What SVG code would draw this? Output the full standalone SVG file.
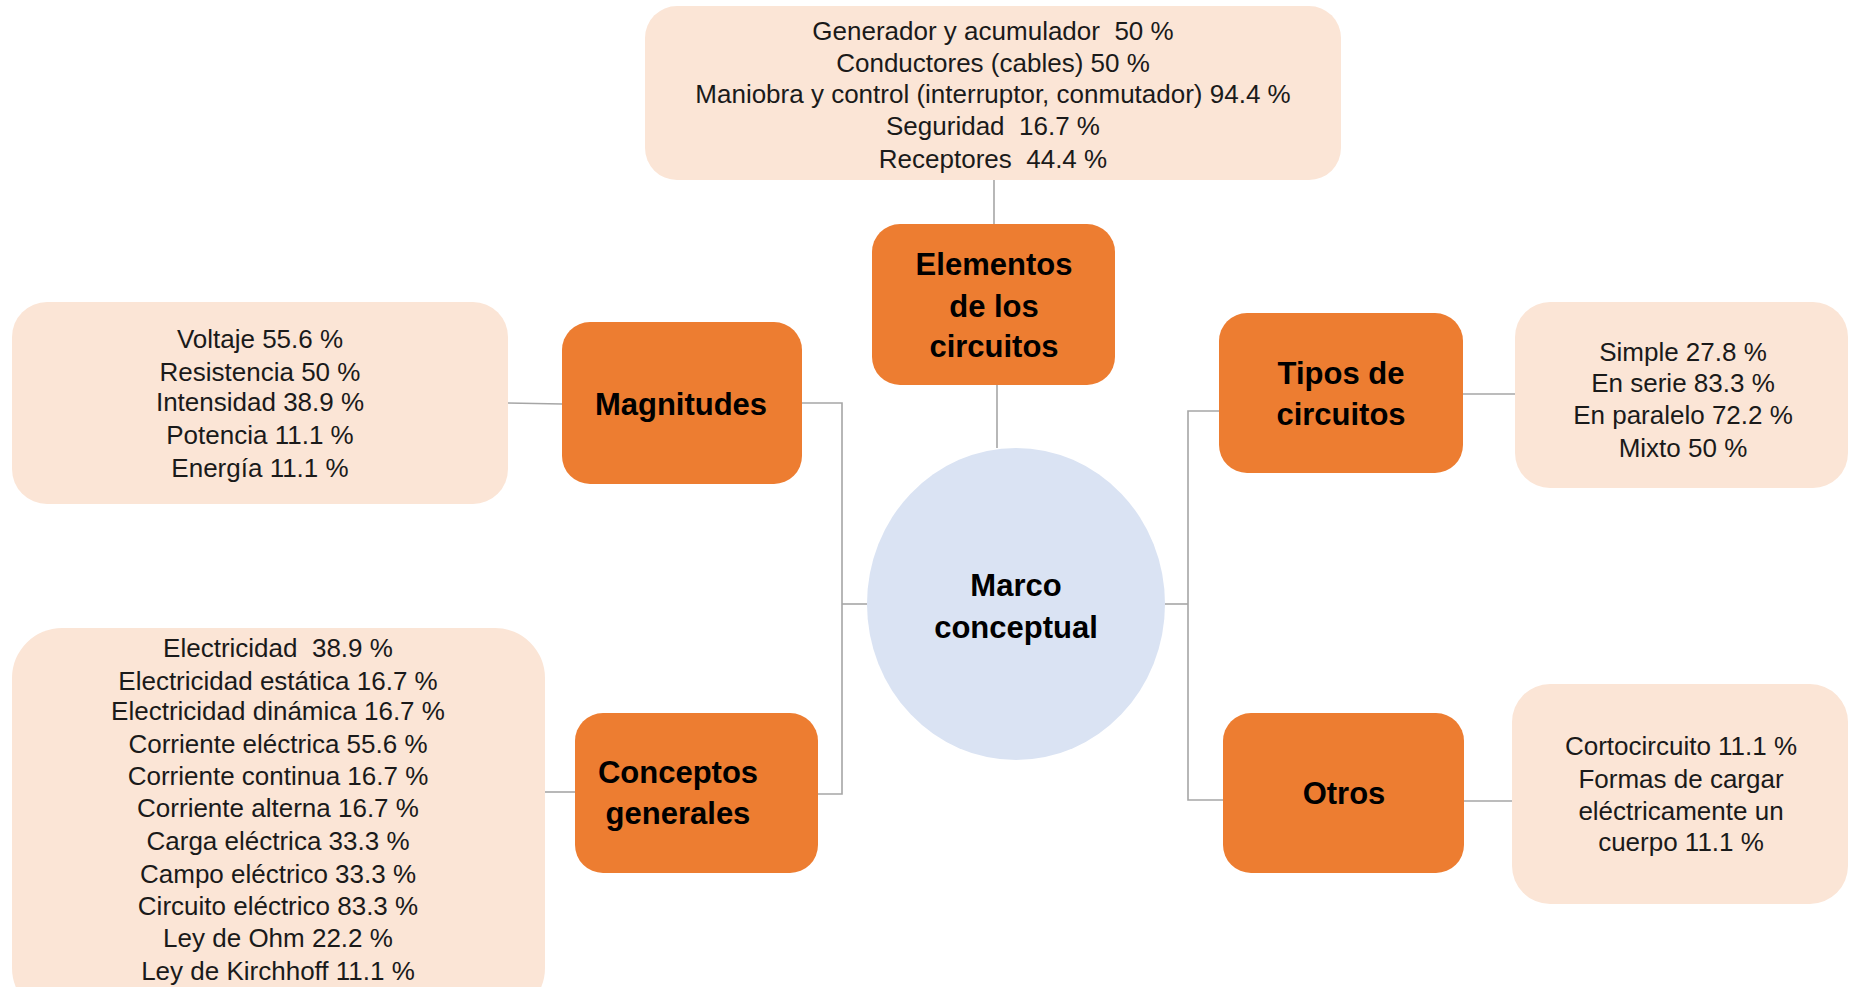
<svg xmlns="http://www.w3.org/2000/svg" width="1850" height="987" viewBox="0 0 1850 987">
<style>
.lb{fill:#FBE5D6;}
.ob{fill:#ED7D31;}
.t{font-family:"Liberation Sans",Arial,sans-serif;font-size:26px;fill:#1a1a1a;text-anchor:middle;white-space:pre;}
.b{font-family:"Liberation Sans",Arial,sans-serif;font-size:31px;font-weight:bold;fill:#000;text-anchor:middle;}
.c{fill:none;stroke:#A6A6A6;stroke-width:1.6;}
</style>
<rect width="1850" height="987" fill="#fff"/>
<g id="connectors">
<line class="c" x1="994" y1="180" x2="994" y2="224"/>
<line class="c" x1="997" y1="385" x2="997" y2="448"/>
<line class="c" x1="508" y1="403" x2="562" y2="404"/>
<polyline class="c" points="802,403 842,403 842,794 818,794"/>
<line class="c" x1="842" y1="604" x2="867" y2="604"/>
<line class="c" x1="545" y1="792" x2="575" y2="792"/>
<polyline class="c" points="1219,411 1188,411 1188,800 1223,800"/>
<line class="c" x1="1165" y1="604" x2="1188" y2="604"/>
<line class="c" x1="1463" y1="394" x2="1515" y2="394"/>
<line class="c" x1="1464" y1="801" x2="1512" y2="801"/>
</g>
<g id="elementos-detalle">
<rect class="lb" x="645" y="6" width="696" height="174" rx="32"/>
<text class="t" x="993" y="40" xml:space="preserve">Generador y acumulador  50 %</text>
<text class="t" x="993" y="72">Conductores (cables) 50 %</text>
<text class="t" x="993" y="103">Maniobra y control (interruptor, conmutador) 94.4 %</text>
<text class="t" x="993" y="135" xml:space="preserve">Seguridad  16.7 %</text>
<text class="t" x="993" y="168" xml:space="preserve">Receptores  44.4 %</text>
</g>
<g id="elementos">
<rect class="ob" x="872" y="224" width="243" height="161" rx="28"/>
<text class="b" x="994" y="275">Elementos</text>
<text class="b" x="994" y="317">de los</text>
<text class="b" x="994" y="357">circuitos</text>
</g>
<g id="magnitudes-detalle">
<rect class="lb" x="12" y="302" width="496" height="202" rx="35"/>
<text class="t" x="260" y="348">Voltaje 55.6 %</text>
<text class="t" x="260" y="381">Resistencia 50 %</text>
<text class="t" x="260" y="411">Intensidad 38.9 %</text>
<text class="t" x="260" y="444">Potencia 11.1 %</text>
<text class="t" x="260" y="477">Energía 11.1 %</text>
</g>
<g id="magnitudes">
<rect class="ob" x="562" y="322" width="240" height="162" rx="28"/>
<text class="b" x="681" y="415">Magnitudes</text>
</g>
<g id="marco">
<ellipse cx="1016" cy="604" rx="149" ry="156" fill="#DAE3F3"/>
<text class="b" x="1016" y="596">Marco</text>
<text class="b" x="1016" y="638">conceptual</text>
</g>
<g id="tipos">
<rect class="ob" x="1219" y="313" width="244" height="160" rx="28"/>
<text class="b" x="1341" y="384">Tipos de</text>
<text class="b" x="1341" y="425">circuitos</text>
</g>
<g id="tipos-detalle">
<rect class="lb" x="1515" y="302" width="333" height="186" rx="35"/>
<text class="t" x="1683" y="361">Simple 27.8 %</text>
<text class="t" x="1683" y="392">En serie 83.3 %</text>
<text class="t" x="1683" y="424">En paralelo 72.2 %</text>
<text class="t" x="1683" y="457">Mixto 50 %</text>
</g>
<g id="otros">
<rect class="ob" x="1223" y="713" width="241" height="160" rx="28"/>
<text class="b" x="1344" y="804">Otros</text>
</g>
<g id="otros-detalle">
<rect class="lb" x="1512" y="684" width="336" height="220" rx="38"/>
<text class="t" x="1681" y="755">Cortocircuito 11.1 %</text>
<text class="t" x="1681" y="788">Formas de cargar</text>
<text class="t" x="1681" y="820">eléctricamente un</text>
<text class="t" x="1681" y="851">cuerpo 11.1 %</text>
</g>
<g id="conceptos">
<rect class="ob" x="575" y="713" width="243" height="160" rx="28"/>
<text class="b" x="678" y="783">Conceptos</text>
<text class="b" x="678" y="824">generales</text>
</g>
<g id="conceptos-detalle">
<rect class="lb" x="12" y="628" width="533" height="390" rx="50"/>
<text class="t" x="278" y="657" xml:space="preserve">Electricidad  38.9 %</text>
<text class="t" x="278" y="690">Electricidad estática 16.7 %</text>
<text class="t" x="278" y="720">Electricidad dinámica 16.7 %</text>
<text class="t" x="278" y="753">Corriente eléctrica 55.6 %</text>
<text class="t" x="278" y="785">Corriente continua 16.7 %</text>
<text class="t" x="278" y="817">Corriente alterna 16.7 %</text>
<text class="t" x="278" y="850">Carga eléctrica 33.3 %</text>
<text class="t" x="278" y="883">Campo eléctrico 33.3 %</text>
<text class="t" x="278" y="915">Circuito eléctrico 83.3 %</text>
<text class="t" x="278" y="947">Ley de Ohm 22.2 %</text>
<text class="t" x="278" y="980">Ley de Kirchhoff 11.1 %</text>
</g>
</svg>
